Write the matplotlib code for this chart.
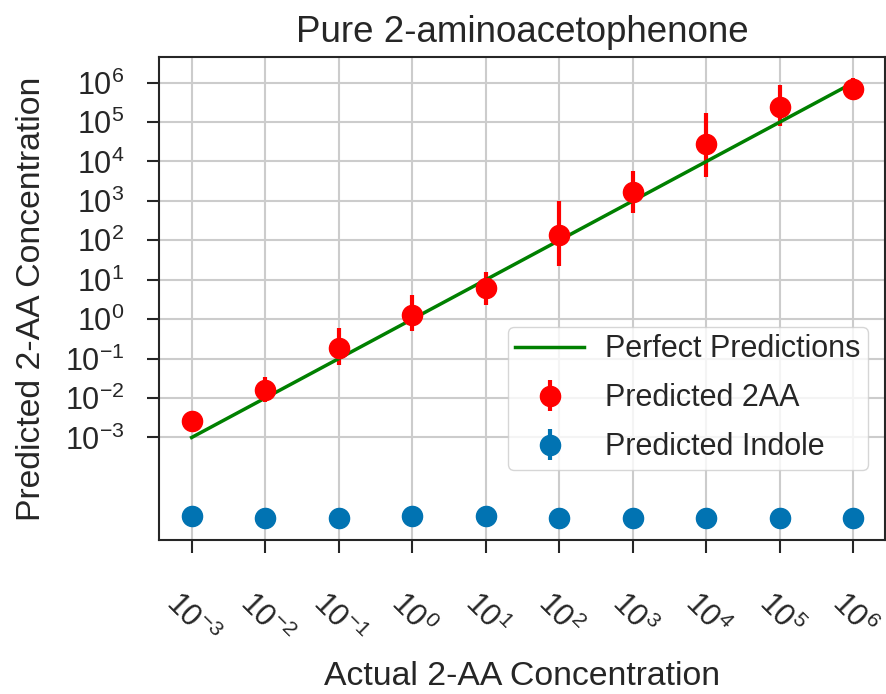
import matplotlib
matplotlib.use("Agg")
import matplotlib.pyplot as plt
import numpy as np

# actual concentrations of the pure 2-aminoacetophenone samples
actual = [1e-3, 1e-2, 1e-1, 1e0, 1e1, 1e2, 1e3, 1e4, 1e5, 1e6]

# model predictions for 2AA with lower / upper error bounds
pred_2aa = [2.55e-3, 0.0162, 0.186, 1.3, 6.2, 140, 1700, 27000, 240000, 690000]
low_2aa = [1.9e-3, 0.008, 0.07, 0.49, 2.3, 22, 480, 4100, 81000, 360000]
high_2aa = [3.3e-3, 0.035, 0.6, 4.2, 15.5, 980, 5600, 170000, 850000, 1.3e6]

# model predictions for indole (should be ~zero here)
pred_indole = [1.03e-5, 9.0e-6, 9.0e-6, 1.05e-5, 1.05e-5, 9.0e-6, 9.0e-6, 9.0e-6, 9.0e-6, 9.0e-6]
err_indole = [0, 0, 0, 0, 0, 0, 0, 0, 0, 0]

plt.rcParams.update({
    "font.family": ["Liberation Sans", "DejaVu Sans"],
    "mathtext.default": "regular",
    "text.color": ".15",
    "axes.labelcolor": ".15",
    "xtick.color": ".15",
    "ytick.color": ".15",
    "axes.edgecolor": ".15",
    "axes.linewidth": 1.5,
    "grid.color": ".8",
    "grid.linewidth": 1.5,
})

fig = plt.figure(figsize=(8.86, 6.94), dpi=100)
ax = fig.add_axes([159 / 886, 154 / 694, 726 / 886, 483 / 694])

yerr = [np.array(pred_2aa) - np.array(low_2aa), np.array(high_2aa) - np.array(pred_2aa)]
ax.errorbar(actual, pred_2aa, yerr=yerr, fmt="o", color="red", ms=14.5, elinewidth=3,
            label="Predicted 2AA")
ax.errorbar(actual, pred_indole, yerr=err_indole, fmt="o", color="#0173B2", ms=14.5, elinewidth=3,
            label="Predicted Indole")
ax.plot(actual, actual, color="green", lw=2.5, label="Perfect Predictions")

ax.set_xscale("log")
ax.set_yscale("log")
ax.set_xlim(10 ** -3.444, 10 ** 6.43)
ax.set_ylim(10 ** -5.6, 10 ** 6.65)
ax.set_xticks(actual)
ax.set_yticks([1e-3, 1e-2, 1e-1, 1e0, 1e1, 1e2, 1e3, 1e4, 1e5, 1e6])
ax.minorticks_off()
ax.grid(True)
ax.set_axisbelow(True)

ax.tick_params(axis="both", direction="out", length=9, width=1.5, labelsize=22)
ax.tick_params(axis="y", pad=16)
ax.tick_params(axis="x", pad=25)
for lbl in ax.get_xticklabels():
    lbl.set_rotation(-45)

ax.set_title("Pure 2-aminoacetophenone", fontsize=26.5, pad=11)
ax.set_xlabel("Actual 2-AA Concentration", fontsize=24.3, labelpad=7)
ax.set_ylabel("Predicted 2-AA Concentration", fontsize=24.3, labelpad=13)

ax.legend(loc="upper right", bbox_to_anchor=(0.977, 0.4416), borderaxespad=0, fontsize=22,
          handlelength=2.25, handletextpad=0.7, borderpad=0.25, labelspacing=0.62,
          edgecolor=".8", framealpha=0.8)

fig.savefig("out.png", dpi=100)
